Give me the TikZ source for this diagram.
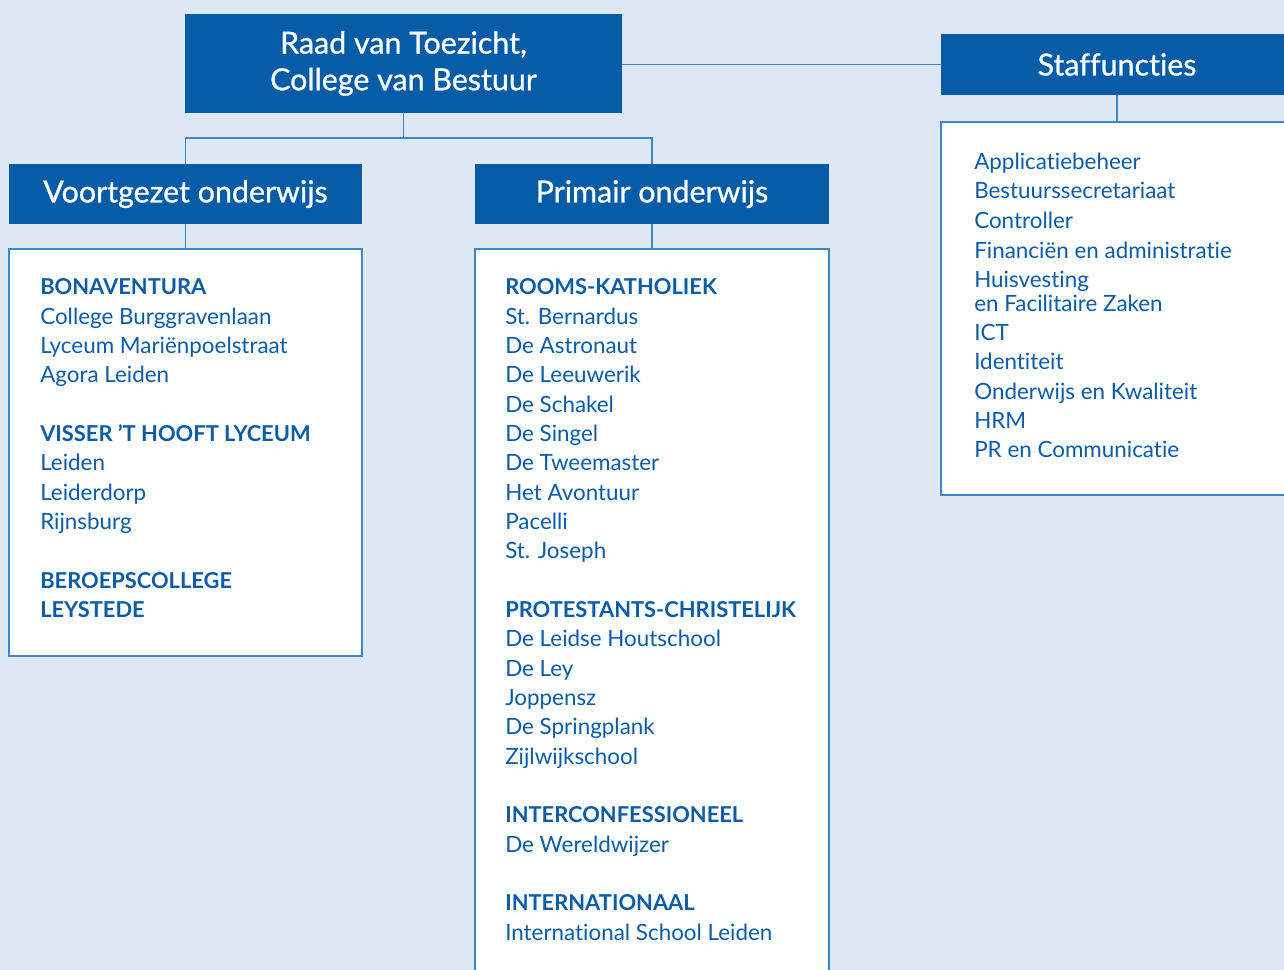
\documentclass[tikz,border=0pt]{standalone}
\usepackage{fontspec}
\setmainfont[RawFeature={-liga;-clig;-dlig}]{Lato}
\newfontfamily\titlefont[FakeBold=0.8,RawFeature={-liga;-clig;-dlig}]{Lato}
\definecolor{bg}{HTML}{DCE8F4}
\definecolor{dkblue}{HTML}{075CA8}
\definecolor{txtblue}{HTML}{0B5CA6}
\definecolor{lineblue}{HTML}{3F86C6}
\newcommand\pxl[1]{#1*0.75pt}
\tikzset{
  headbox/.style={fill=dkblue, draw=none, text=white, inner sep=0pt, font=\titlefont\fontsize{22.8}{27.5}\selectfont, align=center},
  listbox/.style={fill=white, draw=lineblue, line width=0.9pt, inner sep=0pt},
  conn/.style={draw=lineblue, line width=0.9pt},
  item/.style={anchor=base west, inner sep=0pt, text=txtblue, font=\fontsize{16.8}{19}\selectfont},
  head/.style={item, font=\fontsize{16.4}{19}\selectfont\bfseries}
}
\begin{document}
\begin{tikzpicture}[x=0.75pt, y=-0.75pt]
\useasboundingbox (0,0) rectangle (1284,970);
\clip (0,0) rectangle (1284,970);
\fill[bg] (0,0) rectangle (1284,970);

% head boxes
\node[headbox, minimum width=\pxl{437}, minimum height=\pxl{99}] (top) at (403.5,63.5) {Raad van Toezicht,\\College van Bestuur};
\node[headbox, minimum width=\pxl{353}, minimum height=\pxl{60}] (vo) at (185.5,194) {Voortgezet onderwijs};
\node[headbox, minimum width=\pxl{354}, minimum height=\pxl{60}] (po) at (652,194) {Primair onderwijs};
\node[headbox, minimum width=\pxl{352}, minimum height=\pxl{61}] (sf) at (1117,64.5) {Staffuncties};

% list boxes
\node[listbox, minimum width=\pxl{353}, minimum height=\pxl{407}] (wl) at (185.5,452.5) {};
\node[listbox, minimum width=\pxl{354}, minimum height=\pxl{741}] (wm) at (652,619.5) {};
\node[listbox, minimum width=\pxl{352}, minimum height=\pxl{373}] (wr) at (1117,308.5) {};

% connectors
\coordinate (j) at (403.5,138);
\draw[conn] (top.south) -- (j);
\draw[conn] (vo.north) |- (j) -| (po.north);
\draw[conn] (vo.south) -- (wl.north);
\draw[conn] (po.south) -- (wm.north);
\draw[conn] (top.east |- sf.west) -- (sf.west);
\draw[conn] (sf.south) -- (wr.north);

% left list
\node[head] (l1) at (40,294) {BONAVENTURA};
\foreach \y/\t [count=\i] in {324/College Burggravenlaan, 353/Lyceum Mariënpoelstraat, 382/Agora Leiden}
  \node[item] (la\i) at (40,\y) {\t};
\node[head] (l2) at (40,441) {VISSER ’T HOOFT LYCEUM};
\foreach \y/\t [count=\i] in {470/Leiden, 500/Leiderdorp, 529/Rijnsburg}
  \node[item] (lb\i) at (40,\y) {\t};
\node[head] (l3) at (40,588) {BEROEPSCOLLEGE};
\node[head] (l4) at (40,617) {LEYSTEDE};

% middle list
\node[head] (m1) at (505,294) {ROOMS-KATHOLIEK};
\foreach \y/\t [count=\i] in {324/St. Bernardus, 353/De Astronaut, 382/De Leeuwerik, 412/De Schakel, 441/De Singel, 470/De Tweemaster, 500/Het Avontuur, 529/Pacelli, 558/St. Joseph}
  \node[item] (ma\i) at (505,\y) {\t};
\node[head] (m2) at (505,617) {PROTESTANTS-CHRISTELIJK};
\foreach \y/\t [count=\i] in {646/De Leidse Houtschool, 676/De Ley, 705/Joppensz, 734/De Springplank, 764/Zijlwijkschool}
  \node[item] (mb\i) at (505,\y) {\t};
\node[head] (m3) at (505,822) {INTERCONFESSIONEEL};
\node[item] (mc1) at (505,852) {De Wereldwijzer};
\node[head] (m4) at (505,910) {INTERNATIONAAL};
\node[item] (md1) at (505,940) {International School Leiden};

% right list
\foreach \y/\t [count=\i] in {170/Applicatiebeheer, 199/Bestuurssecretariaat, 228/Controller, 258/Financiën en administratie, 287/Huisvesting, 311/en Facilitaire Zaken, 340/ICT, 369/Identiteit, 399/Onderwijs en Kwaliteit, 428/HRM, 457/PR en Communicatie}
  \node[item] (r\i) at (974,\y) {\t};
\end{tikzpicture}
\end{document}
